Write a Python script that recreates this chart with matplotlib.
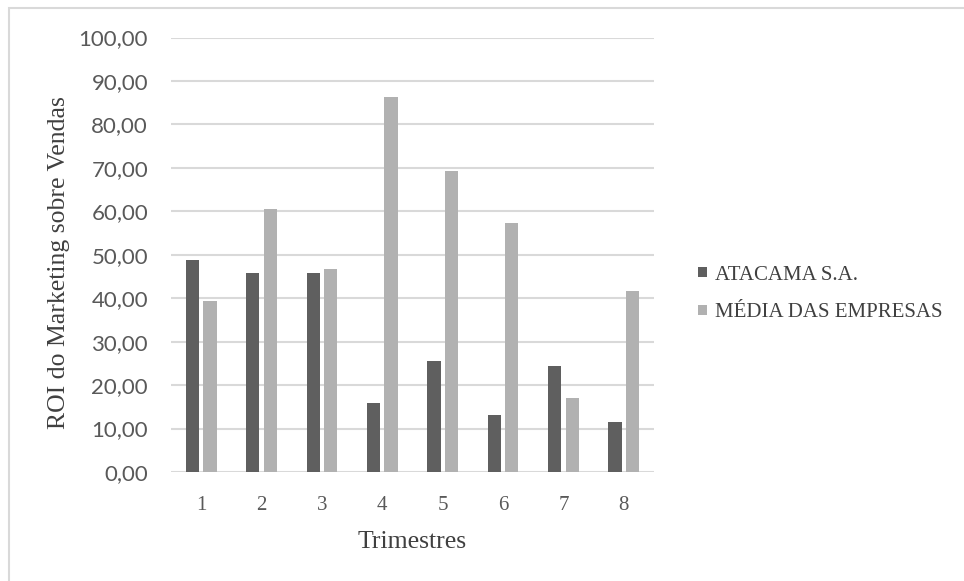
import matplotlib
matplotlib.use("Agg")
import matplotlib.pyplot as plt
import matplotlib.patches as mpatches
import numpy as np

trimestres = ["1", "2", "3", "4", "5", "6", "7", "8"]
atacama = [48.8, 45.7, 45.7, 15.8, 25.5, 13.1, 24.4, 11.4]
media = [39.4, 60.6, 46.7, 86.4, 69.3, 57.4, 17.0, 41.7]
series_names = ["ATACAMA S.A.", "MÉDIA DAS EMPRESAS"]
y_ticks = [0, 10, 20, 30, 40, 50, 60, 70, 80, 90, 100]

W, H = 964, 581
fig = plt.figure(figsize=(W / 100, H / 100), dpi=100)
fig.patch.set_facecolor("white")

# outer chart border (cropped at right and bottom)
border = mpatches.Rectangle((9 / W, -0.1), 1.2, 1.1 - 8 / H,
                            transform=fig.transFigure, fill=False,
                            edgecolor="#d9d9d9", linewidth=1.5, zorder=0)
fig.patches.append(border)

ax = fig.add_axes([171 / W, 109 / H, (654 - 171) / W, (472 - 37.5) / H])
x = np.arange(len(trimestres))
bw = 0.22
off = 0.145
dark = "#5f5f5f"
light = "#b1b1b1"
b1 = ax.bar(x - off, atacama, width=bw, color=dark, zorder=3)
b2 = ax.bar(x + off, media, width=bw, color=light, zorder=3)

ax.set_xlim(-0.5, len(trimestres) - 0.5)
ax.set_ylim(0, 100)
ax.set_yticks(y_ticks)
ax.set_yticklabels([f"{v:.2f}".replace(".", ",") for v in y_ticks],
                   fontfamily="Lato", fontsize=16, color="#595959")
ax.set_xticks(x)
ax.set_xticklabels(trimestres, fontfamily="Liberation Serif", fontsize=15,
                   color="#595959")
ax.tick_params(axis="both", length=0)
ax.tick_params(axis="y", pad=16.5)
ax.tick_params(axis="x", pad=17)
for s in ax.spines.values():
    s.set_visible(False)
ax.yaxis.grid(True, color="#d9d9d9", linewidth=1.5, zorder=0)
ax.set_axisbelow(True)

ax.set_xlabel("Trimestres", fontfamily="Liberation Serif", fontsize=18.5,
              color="#404040", labelpad=12)
ax.set_ylabel("ROI do Marketing sobre Vendas", fontfamily="Liberation Serif",
              fontsize=18.5, color="#404040", va="center")
ax.yaxis.set_label_coords((59 - 171) / (654 - 171), (472 - 263) / (472 - 37.5))

leg = fig.legend([b1, b2], series_names, loc="center left",
                 bbox_to_anchor=(690 / W, 1 - 294 / H), frameon=False,
                 prop={"family": "Liberation Serif", "size": 15},
                 handlelength=0.4, handleheight=0.4, handletextpad=0.4,
                 labelspacing=0.9, borderaxespad=0)
for t in leg.get_texts():
    t.set_color("#404040")

fig.savefig("out.png", dpi=100, facecolor="white")
